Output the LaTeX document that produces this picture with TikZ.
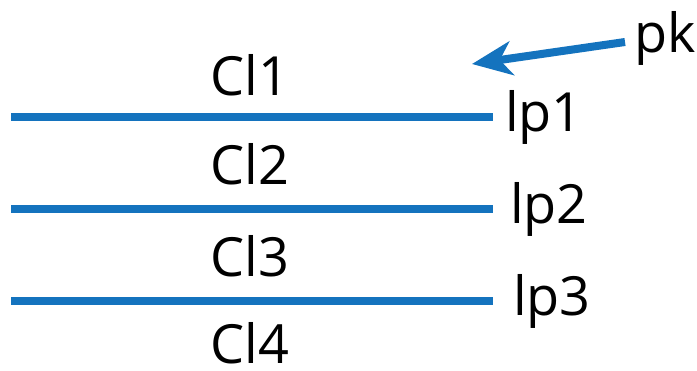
\documentclass[tikz,border=0pt]{standalone}
\usepackage{fontspec}
\setmainfont{Open Sans}
\usetikzlibrary{arrows.meta}
\definecolor{layerblue}{RGB}{20,115,190}
\tikzset{
  band/.style={layerblue, line width=8pt},
  lbl/.style={inner sep=0pt, font=\fontsize{54}{60}\selectfont},
}
\begin{document}
\begin{tikzpicture}[x=1pt,y=1pt]
	\useasboundingbox (0,0) rectangle (697,370);
	% interfaces
	\foreach \i/\y in {1/253, 2/161, 3/69} {
		\coordinate (s\i) at (11,\y);
		\coordinate (e\i) at (493,\y);
		\draw[band] (s\i) -- (e\i);
	}
	% layers
	\node[lbl, anchor=base] (cl1) at (250,274) {Cl1};
	\node[lbl, anchor=base] (cl2) at (250,185) {Cl2};
	\node[lbl, anchor=base] (cl3) at (250,93) {Cl3};
	\node[lbl, anchor=base] (cl4) at (250,6) {Cl4};
	% interface labels
	\node[lbl, anchor=base west] (lp1) at (505,238) {lp1};
	\node[lbl, anchor=base west] (lp2) at (510,146) {lp2};
	\node[lbl, anchor=base west] (lp3) at (513,54) {lp3};
	% incoming
	\node[lbl, anchor=base west] (pk) at (634,317) {pk};
	\coordinate (tip) at (472,306);
	\draw[band, -{Stealth[length=40pt, width=34pt, inset=12pt]}] (pk.west |- 0,328) ++(-9,0) -- (tip);
\end{tikzpicture}
\end{document}
